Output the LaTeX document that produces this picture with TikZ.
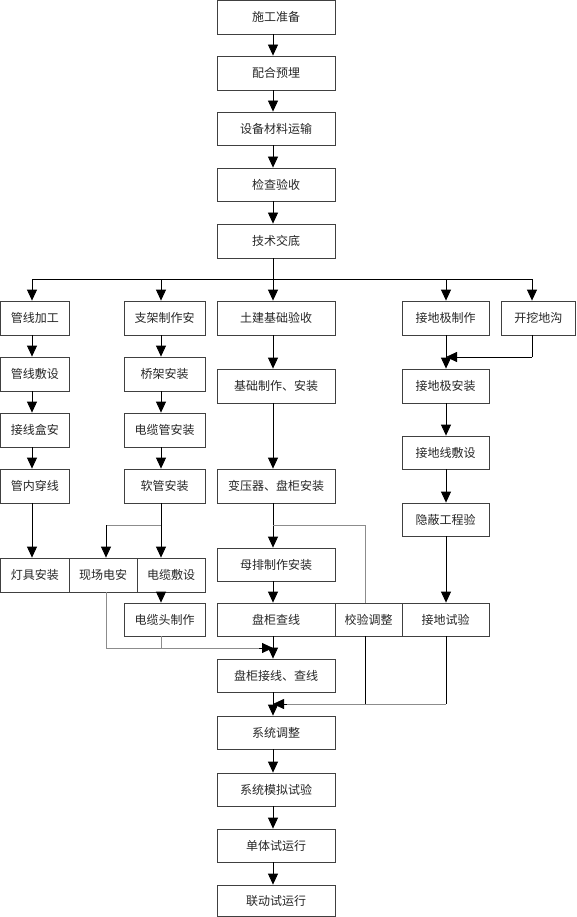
\documentclass[tikz,border=0pt]{standalone}
\usepackage{fontspec}
\newfontfamily\cjk{Noto Sans CJK SC}
\usetikzlibrary{arrows.meta,calc}
\tikzset{
  box/.style={draw=black!75, line width=0.8pt, inner sep=0pt, text=black!85,
    font=\cjk\fontsize{12}{14}\selectfont},
  ln/.style={draw=black, line width=0.8pt},
  gln/.style={draw=black!45, line width=1pt},
  arr/.style={-{Triangle[length=11pt,width=10pt]}},
}
\begin{document}
\begin{tikzpicture}[x=1pt,y=-1pt]
\useasboundingbox (0,0) rectangle (576,917);
% centre column
\node[box,minimum width=118pt,minimum height=34pt] (n1) at (276,17) {施工准备};
\node[box,minimum width=118pt,minimum height=34pt] (n2) at (276,73) {配合预埋};
\node[box,minimum width=118pt,minimum height=33pt] (n3) at (276,128.5) {设备材料运输};
\node[box,minimum width=118pt,minimum height=33pt] (n4) at (276,184.5) {检查验收};
\node[box,minimum width=118pt,minimum height=34pt] (n5) at (276,241) {技术交底};
% column a
\node[box,minimum width=68.5pt,minimum height=34pt] (a1) at (34.75,318) {管线加工};
\node[box,minimum width=68.5pt,minimum height=34pt] (a2) at (34.75,374) {管线敷设};
\node[box,minimum width=68.5pt,minimum height=34pt] (a3) at (34.75,430) {接线盒安};
\node[box,minimum width=68.5pt,minimum height=34pt] (a4) at (34.75,486) {管内穿线};
\node[box,minimum width=68.5pt,minimum height=34pt] (a5) at (34.75,575) {灯具安装};
% column b
\node[box,minimum width=81pt,minimum height=34pt] (b1) at (164.5,318) {支架制作安};
\node[box,minimum width=81pt,minimum height=34pt] (b2) at (164.5,374) {桥架安装};
\node[box,minimum width=81pt,minimum height=34pt] (b3) at (164.5,430) {电缆管安装};
\node[box,minimum width=81pt,minimum height=34pt] (b4) at (164.5,486) {软管安装};
\node[box,minimum width=68pt,minimum height=34pt] (b5) at (103,575) {现场电安};
\node[box,minimum width=68pt,minimum height=34pt] (b6) at (171,575) {电缆敷设};
\node[box,minimum width=81pt,minimum height=33pt] (b7) at (164.5,619.5) {电缆头制作};
% column c
\node[box,minimum width=118pt,minimum height=34pt] (c1) at (276,318) {土建基础验收};
\node[box,minimum width=118pt,minimum height=34pt] (c2) at (276,386) {基础制作、安装};
\node[box,minimum width=118pt,minimum height=34pt] (c3) at (276,486) {变压器、盘柜安装};
\node[box,minimum width=118pt,minimum height=33pt] (c4) at (276,564.5) {母排制作安装};
\node[box,minimum width=118pt,minimum height=33pt] (c5) at (276,619.5) {盘柜查线};
\node[box,minimum width=67pt,minimum height=33pt] (c6) at (368.5,619.5) {校验调整};
\node[box,minimum width=118pt,minimum height=33pt] (c7) at (276,675.5) {盘柜接线、查线};
% column d
\node[box,minimum width=87pt,minimum height=34pt] (d1) at (445.5,318) {接地极制作};
\node[box,minimum width=74pt,minimum height=34pt] (d2) at (538.25,318) {开挖地沟};
\node[box,minimum width=87pt,minimum height=34pt] (d3) at (445.5,386) {接地极安装};
\node[box,minimum width=87pt,minimum height=33pt] (d4) at (445.5,452.5) {接地线敷设};
\node[box,minimum width=87pt,minimum height=33pt] (d5) at (445.5,519.5) {隐蔽工程验};
\node[box,minimum width=87pt,minimum height=33pt] (d6) at (445.5,619.5) {接地试验};
% bottom
\node[box,minimum width=118pt,minimum height=33pt] (e1) at (276,732.5) {系统调整};
\node[box,minimum width=118pt,minimum height=33pt] (e2) at (276,789.5) {系统模拟试验};
\node[box,minimum width=118pt,minimum height=33pt] (e3) at (276,845.5) {单体试运行};
\node[box,minimum width=118pt,minimum height=31.5pt] (e4) at (276,900.75) {联动试运行};
% column x positions
\coordinate (cx) at (273,0);
\coordinate (ax) at (32,0);
\coordinate (bx) at (161,0);
\coordinate (b5x) at (106,0);
\coordinate (c6x) at (365,0);
\coordinate (dx) at (446,0);
\coordinate (d2x) at (532,0);
\coordinate (bus) at (273,279);
\coordinate (jb) at (161,525);
\coordinate (jc) at (273,525);
\coordinate (jd) at (532,357);
\coordinate (jl) at (273,648);
\coordinate (jr) at (273,704);
% top chain
\draw[ln,arr] (n1.south -| cx) -- (n2.north -| cx);
\draw[ln,arr] (n2.south -| cx) -- (n3.north -| cx);
\draw[ln,arr] (n3.south -| cx) -- (n4.north -| cx);
\draw[ln,arr] (n4.south -| cx) -- (n5.north -| cx);
\draw[ln] (n5.south -| cx) -- (bus);
\draw[ln,arr] (bus) -| (a1.north -| ax);
\draw[ln,arr] (bus) -| (b1.north -| bx);
\draw[ln,arr] (bus) -- (c1.north -| cx);
\draw[ln,arr] (bus) -| (d1.north -| dx);
\draw[ln,arr] (bus) -| (d2.north -| d2x);
% column a
\draw[ln,arr] (a1.south -| ax) -- (a2.north -| ax);
\draw[ln,arr] (a2.south -| ax) -- (a3.north -| ax);
\draw[ln,arr] (a3.south -| ax) -- (a4.north -| ax);
\draw[ln,arr] (a4.south -| ax) -- (a5.north -| ax);
% column b
\draw[ln,arr] (b1.south -| bx) -- (b2.north -| bx);
\draw[ln,arr] (b2.south -| bx) -- (b3.north -| bx);
\draw[ln,arr] (b3.south -| bx) -- (b4.north -| bx);
\draw[ln,arr] (b4.south -| bx) -- (b6.north -| bx);
\draw[gln] (jb) -- (jb -| b5x);
\draw[ln,arr] (jb -| b5x) -- (b5.north -| b5x);
\draw[ln,arr] (b6.south -| bx) -- (b7.north -| bx);
\draw[gln] (b5.south -| b5x) |- (jl);
\draw[gln] (b7.south -| bx) -- (jl -| bx);
% column c
\draw[ln,arr] (c1.south -| cx) -- (c2.north -| cx);
\draw[ln,arr] (c2.south -| cx) -- (c3.north -| cx);
\draw[ln,arr] (c3.south -| cx) -- (c4.north -| cx);
\draw[gln] (jc) -| (c6.north -| c6x);
\draw[ln,arr] (c4.south -| cx) -- (c5.north -| cx);
\draw[ln,arr] (c5.south -| cx) -- (c7.north -| cx);
\draw[ln,arr] ($(jl)+(-14,0)$) -- (jl);
% column d
\draw[ln,arr] (d1.south -| dx) -- (d3.north -| dx);
\draw[ln] (d2.south -| d2x) -- (jd);
\draw[ln,arr] (jd) -- (jd -| dx);
\draw[ln,arr] (d3.south -| dx) -- (d4.north -| dx);
\draw[ln,arr] (d4.south -| dx) -- (d5.north -| dx);
\draw[ln,arr] (d5.south -| dx) -- (d6.north -| dx);
% to system adjust
\draw[ln] (c6.south -| c6x) -- (jr -| c6x);
\draw[ln] (d6.south -| dx) -- (jr -| dx);
\draw[gln] (jr -| dx) -- (jr);
\draw[ln,arr] ($(jr)+(14,0)$) -- (jr);
\draw[ln,arr] (c7.south -| cx) -- (e1.north -| cx);
% bottom chain
\draw[ln,arr] (e1.south -| cx) -- (e2.north -| cx);
\draw[ln,arr] (e2.south -| cx) -- (e3.north -| cx);
\draw[ln,arr] (e3.south -| cx) -- (e4.north -| cx);
\end{tikzpicture}
\end{document}
